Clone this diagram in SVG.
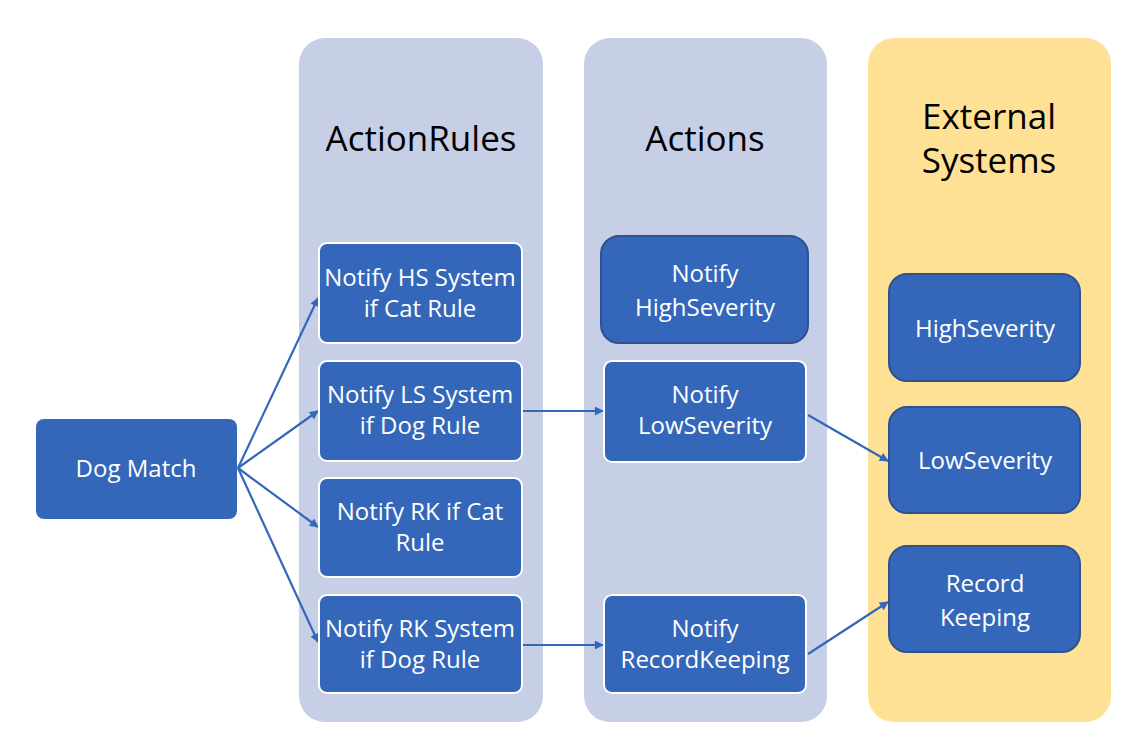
<svg xmlns="http://www.w3.org/2000/svg" width="1142" height="753" viewBox="0 0 1142 753">
<style>
.panel{fill:#C7CFE6}
.ext{fill:#FEE195}
.title{font-family:"Open Sans","Liberation Sans",sans-serif;font-size:35px;fill:#000;text-anchor:middle}
.node{fill:#3467B9}
.nw{stroke:#FFFFFF;stroke-width:2}
.nd{stroke:#2F528F;stroke-width:2}
.lbl{font-family:"Open Sans","Liberation Sans",sans-serif;font-size:24px;fill:#FFFFFF;text-anchor:middle}
.conn{stroke:#3467B9;stroke-width:2.2;fill:none;marker-end:url(#ah)}
</style>
<defs>
<marker id="ah" viewBox="0 0 10 10" refX="9" refY="5" markerWidth="10" markerHeight="9" orient="auto" markerUnits="userSpaceOnUse">
<path d="M0,0 L10,5 L0,10 z" fill="#3467B9"/>
</marker>
</defs>
<rect width="1142" height="753" fill="#FFFFFF"/>
<g id="panel-actionrules">
<rect class="panel" x="299" y="38" width="244" height="684" rx="26"/>
<text class="title" x="421" y="151">ActionRules</text>
</g>
<g id="panel-actions">
<rect class="panel" x="584" y="38" width="243" height="684" rx="26"/>
<text class="title" x="705" y="151">Actions</text>
</g>
<g id="panel-external">
<rect class="ext" x="868" y="38" width="243" height="684" rx="26"/>
<text class="title" x="989" y="129">External</text>
<text class="title" x="989" y="173">Systems</text>
</g>
<g id="connectors">
<line class="conn" x1="238" y1="468" x2="318" y2="298"/>
<line class="conn" x1="238" y1="468" x2="318" y2="411"/>
<line class="conn" x1="238" y1="468" x2="318" y2="527"/>
<line class="conn" x1="238" y1="468" x2="318" y2="642"/>
<line class="conn" x1="523" y1="411" x2="603" y2="411"/>
<line class="conn" x1="523" y1="645" x2="603" y2="645"/>
<line class="conn" x1="808" y1="415" x2="888" y2="461"/>
<line class="conn" x1="808" y1="654" x2="888" y2="602"/>
</g>
<g id="dog-match">
<rect class="node" x="36" y="419" width="201" height="100" rx="8"/>
<text class="lbl" x="136" y="477">Dog Match</text>
</g>
<g id="rule-hs-cat">
<rect class="node nw" x="319" y="243" width="203" height="100" rx="8"/>
<text class="lbl" x="420" y="286">Notify HS System</text>
<text class="lbl" x="420" y="317">if Cat Rule</text>
</g>
<g id="rule-ls-dog">
<rect class="node nw" x="319" y="361" width="203" height="100" rx="8"/>
<text class="lbl" x="420" y="403">Notify LS System</text>
<text class="lbl" x="420" y="434">if Dog Rule</text>
</g>
<g id="rule-rk-cat">
<rect class="node nw" x="319" y="478" width="203" height="99" rx="8"/>
<text class="lbl" x="420" y="520">Notify RK if Cat</text>
<text class="lbl" x="420" y="551">Rule</text>
</g>
<g id="rule-rk-dog">
<rect class="node nw" x="319" y="595" width="203" height="98" rx="8"/>
<text class="lbl" x="420" y="637">Notify RK System</text>
<text class="lbl" x="420" y="668">if Dog Rule</text>
</g>
<g id="action-hs">
<rect class="node nd" x="601" y="236" width="207" height="107" rx="18"/>
<text class="lbl" x="705" y="282">Notify</text>
<text class="lbl" x="705" y="316">HighSeverity</text>
</g>
<g id="action-ls">
<rect class="node nw" x="604" y="361" width="202" height="101" rx="8"/>
<text class="lbl" x="705" y="403">Notify</text>
<text class="lbl" x="705" y="434">LowSeverity</text>
</g>
<g id="action-rk">
<rect class="node nw" x="604" y="595" width="202" height="98" rx="8"/>
<text class="lbl" x="705" y="637">Notify</text>
<text class="lbl" x="705" y="668">RecordKeeping</text>
</g>
<g id="ext-hs">
<rect class="node nd" x="889" y="274" width="191" height="107" rx="18"/>
<text class="lbl" x="985" y="337">HighSeverity</text>
</g>
<g id="ext-ls">
<rect class="node nd" x="889" y="407" width="191" height="106" rx="18"/>
<text class="lbl" x="985" y="469">LowSeverity</text>
</g>
<g id="ext-rk">
<rect class="node nd" x="889" y="546" width="191" height="106" rx="18"/>
<text class="lbl" x="985" y="592">Record</text>
<text class="lbl" x="985" y="626">Keeping</text>
</g>
</svg>
